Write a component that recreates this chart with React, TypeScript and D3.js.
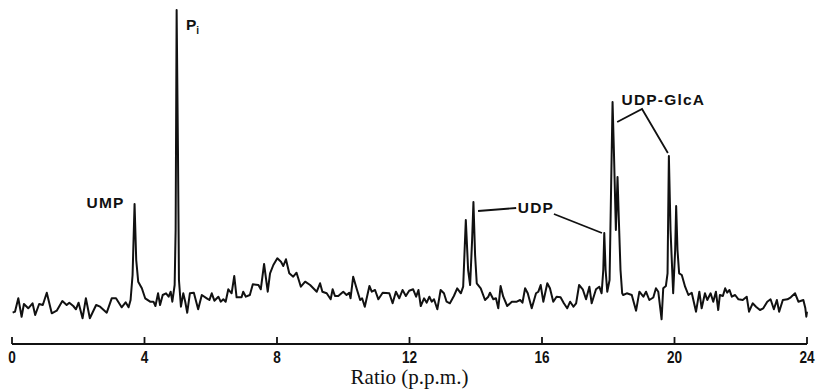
import React from "react";
import * as d3 from "d3";

// Chemical shift (p.p.m.) of each traced point along the spectrum
const ppm: number[] = [
  0.02, 0.09, 0.19, 0.29, 0.36, 0.49, 0.62, 0.7, 0.82, 0.93, 1.05, 1.2, 1.35, 1.52, 1.65, 1.73, 1.85, 1.93, 2.01, 2.13,
  2.23, 2.35, 2.54, 2.66, 2.86, 3.01, 3.14, 3.31, 3.43, 3.52, 3.58, 3.64, 3.7, 3.75, 3.81, 3.92, 4.02, 4.17, 4.27, 4.33,
  4.41, 4.47, 4.55, 4.65, 4.73, 4.79, 4.84, 4.91, 4.94, 4.97, 5.01, 5.04, 5.1, 5.17, 5.23, 5.29, 5.37, 5.49, 5.62, 5.73,
  5.88, 5.96, 6.03, 6.11, 6.23, 6.3, 6.38, 6.45, 6.53, 6.63, 6.71, 6.78, 6.93, 6.98, 7.06, 7.18, 7.27, 7.44, 7.51, 7.61,
  7.72, 7.79, 7.89, 8.01, 8.12, 8.19, 8.27, 8.37, 8.49, 8.59, 8.72, 8.85, 9.0, 9.2, 9.3, 9.37, 9.5, 9.62, 9.68, 9.75,
  9.85, 10.0, 10.1, 10.18, 10.22, 10.3, 10.41, 10.51, 10.57, 10.65, 10.79, 10.86, 10.96, 11.06, 11.19, 11.39, 11.49, 11.59, 11.69, 11.79,
  11.89, 11.99, 12.11, 12.2, 12.27, 12.34, 12.44, 12.52, 12.6, 12.67, 12.74, 12.84, 12.94, 13.04, 13.12, 13.22, 13.34, 13.44, 13.55, 13.62,
  13.7, 13.77, 13.83, 13.89, 13.93, 13.98, 14.03, 14.15, 14.28, 14.38, 14.43, 14.53, 14.61, 14.68, 14.75, 14.83, 14.95, 15.09, 15.24, 15.34,
  15.41, 15.49, 15.57, 15.69, 15.82, 15.89, 15.96, 16.04, 16.16, 16.24, 16.34, 16.44, 16.56, 16.66, 16.76, 16.85, 16.95, 17.03, 17.12, 17.23,
  17.33, 17.43, 17.5, 17.63, 17.73, 17.8, 17.85, 17.88, 17.92, 17.97, 18.04, 18.09, 18.13, 18.17, 18.23, 18.28, 18.32, 18.37, 18.42, 18.45,
  18.56, 18.71, 18.84, 18.94, 19.06, 19.14, 19.24, 19.36, 19.44, 19.51, 19.61, 19.66, 19.74, 19.79, 19.83, 19.88, 19.96, 20.02, 20.05, 20.09,
  20.14, 20.22, 20.32, 20.42, 20.52, 20.65, 20.75, 20.82, 20.92, 20.99, 21.09, 21.17, 21.25, 21.32, 21.37, 21.46, 21.53, 21.59, 21.66, 21.73,
  21.83, 21.93, 22.06, 22.18, 22.25, 22.36, 22.46, 22.58, 22.68, 22.8, 22.9, 23.0, 23.09, 23.16, 23.27, 23.41, 23.51, 23.64, 23.74, 23.89,
  23.95, 23.98, 24.0,
];

// Signal intensity (arbitrary units) at each point
const intensity: number[] = [
  -12.7, -11.7, 1.7, -16.7, -4, -8.3, -3.3, -15, -4, -5, 7.3, -13.3, -10.7, -1, -5, -2.7, -6, -9.3, -2.7, -18.3,
  1.7, -18.3, -5, -6.7, -12.7, 1.7, 1.7, -7.3, -2.3, -7.3, 0, 25, 96, 40, 18.3, 11.7, 1.7, -1.7, -1.7, -6,
  6.7, -5, 5, 6.7, 3.3, 8.3, -1.7, 15, 70, 290, 150, 20, -6.7, 6.7, -1.7, -12.7, 6.7, 7.3, -9.3, 5,
  1.7, 0, 6.7, -0.7, 3.3, -1.7, 0.7, -1.7, 10.7, 6.7, 24, 2.7, 2.7, 8.3, 3.3, 5, 15.7, 15, 10.7, 36,
  8.3, 26.7, 35, 41.7, 38.3, 34, 40.7, 26.7, 23.3, 27.3, 13.3, 18.3, 15, 8.3, 16.7, 8.3, 6.7, 0.7, 10.7, 4,
  4, 8.3, 5, 7.3, 1.7, 23.3, 10.7, 0, 1.7, -6.7, 14, 8.3, 10, 0.7, 7.3, 6.7, -3.3, 8.3, 1.7, 10,
  4, 9.3, 10.7, 3.3, 10, -6, 1.7, -2.7, 3.3, -1.7, 0.7, -9.3, 10, 6.7, -1.7, -3.3, 4, 11.7, 6.7, 13.3,
  80, 30, 15, 60, 98, 45, 16.7, 11.7, 0, 3.3, 7.3, 0.7, 1.7, -8.3, 14, 3.3, -6, -1.7, -1.7, 0,
  -2.7, 11.7, 6.7, -8.3, 6.7, 8.3, 15, -1.7, 16.7, 11.7, -1.7, 3.3, 2.7, -3.3, -8.3, -1.7, -6.7, -3.3, 15, 10.7,
  0.7, 13.3, -3.3, 10.7, 13.3, 6.7, 30, 67, 30, 8.3, 20, 120, 198, 150, 70, 123, 80, 30, 6.7, 5,
  6.7, 5, -10.7, 8.3, 3.3, 8.3, 0, 2.5, 11.7, 8.3, -19.3, 11.7, 14, 26.7, 144, 70, 6.7, 50, 94, 50,
  26.7, 25, 13.3, 5, 7.3, -11.7, 8.3, -8.3, 6.7, 0, 6.7, -1.7, 8.3, -10, 5, 4, 11.7, 7.3, 10, 3.3,
  5, 0.7, 0, 3.3, -11.7, -3.3, -6.7, -10, -8.3, -1.7, 0.7, -9.3, 0, -11.7, 0, 0.7, 2.7, 6.7, -1.7, 0,
  -8.3, -16.7, -11.7,
];

const tickValues: number[] = [0, 4, 8, 12, 16, 20, 24];
const axisTitle = "Ratio (p.p.m.)";

// Peak labels: text, anchor position in data units
const labelText: string[] = ["UMP", "UDP", "UDP-GlcA"];
const labelPpm: number[] = [2.25, 15.27, 18.4];
const labelInt: number[] = [92, 87, 195];

// Leader lines (ppm, intensity) polylines
const udpLeaderA: [number, number][] = [[14.07, 89], [15.22, 92]];
const udpLeaderB: [number, number][] = [[16.36, 86], [17.81, 67]];
const glcaLeader: [number, number][] = [[18.27, 178], [19.02, 191], [19.80, 147]];

export default function App() {
  const W = 818;
  const H = 391;
  const x = d3.scaleLinear().domain([0, 24]).range([12, 807]);
  const y = d3.scaleLinear().domain([0, 290]).range([300, 10]);
  const pts: [number, number][] = ppm.map((p, i) => [p, intensity[i]]);
  const line = d3
    .line<[number, number]>()
    .x((d) => x(d[0]))
    .y((d) => y(d[1]));
  const axisY = 344;
  const labelFont = "'Liberation Sans', Arial, sans-serif";
  return (
    <svg
      width={W}
      height={H}
      style={{ position: "absolute", left: 0, top: 0, background: "#fff" }}
    >
      <rect x={0} y={0} width={W} height={H} fill="#fff" />
      <path d={line(pts) || ""} fill="none" stroke="#111" strokeWidth={2} strokeLinejoin="round" />
      {/* axis */}
      <line x1={x(0)} x2={x(24)} y1={axisY} y2={axisY} stroke="#111" strokeWidth={2.2} />
      {tickValues.map((t) => (
        <g key={t}>
          <line x1={x(t)} x2={x(t)} y1={axisY} y2={axisY - 7} stroke="#111" strokeWidth={1.8} />
          <text
            x={x(t)}
            y={axisY + 19}
            textAnchor="middle"
            fontFamily="'Liberation Sans Narrow', 'Liberation Sans', Arial, sans-serif"
            fontSize={16}
            fontWeight="bold"
            transform={`translate(${x(t)},0) scale(0.85,1) translate(${-x(t)},0)`}
            fill="#111"
          >
            {t}
          </text>
        </g>
      ))}
      <text
        x={(x(0) + x(24)) / 2}
        y={384}
        textAnchor="middle"
        fontFamily="'Liberation Serif', 'Times New Roman', serif"
        fontSize={21}
        fill="#111"
      >
        {axisTitle}
      </text>
      {/* peak labels */}
      {labelText.map((s, i) => (
        <text
          key={s}
          x={x(labelPpm[i])}
          y={y(labelInt[i])}
          fontFamily={labelFont}
          fontWeight="bold"
          fontSize={15.5}
          letterSpacing={1.2}
          fill="#111"
        >
          {s}
        </text>
      ))}
      <text x={x(5.25)} y={y(270)} fontFamily={labelFont} fontWeight="bold" fontSize={15.5} fill="#111">
        P
        <tspan fontSize={10} dy={4}>
          i
        </tspan>
      </text>
      {[udpLeaderA, udpLeaderB, glcaLeader].map((seg, i) => (
        <path key={i} d={line(seg) || ""} fill="none" stroke="#111" strokeWidth={1.8} />
      ))}
    </svg>
  );
}
